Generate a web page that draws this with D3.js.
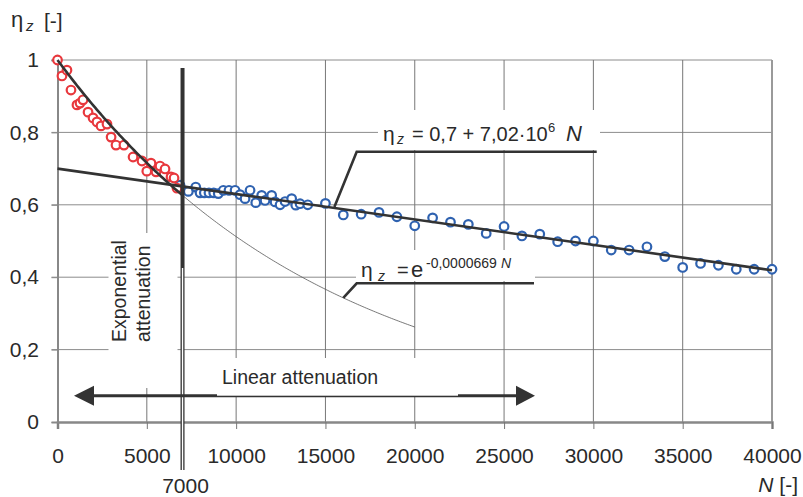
<!DOCTYPE html>
<html>
<head>
<meta charset="utf-8">
<script src="https://cdn.jsdelivr.net/npm/d3@7"></script>
<style>
  html, body { margin: 0; padding: 0; background: #fff; }
  svg { display: block; font-family: "Liberation Sans", Arial, sans-serif; }
</style>
</head>
<body>
<svg id="chart" width="803" height="497"></svg>
<script>
// Exponential-phase measurements (red)
const redN   = [0, 250, 530, 755, 1090, 1260, 1430, 1710, 1990, 2210, 2435, 2770, 3000, 3275, 3720,
                4230, 4730, 5000, 5235, 5515, 5740, 6020, 6355, 6525, 6690];
const redEta = [1.000, 0.956, 0.972, 0.917, 0.876, 0.881, 0.890, 0.856, 0.840, 0.829, 0.818, 0.823,
                0.787, 0.765, 0.765, 0.732, 0.721, 0.693, 0.715, 0.691, 0.707, 0.699, 0.677, 0.674, 0.646];

// Linear-phase measurements (blue)
const blueN   = [6860, 7325, 7740, 7980, 8220, 8480, 8745, 9000, 9285, 9600, 9940, 10220, 10500, 10780,
                 11100, 11430, 11620, 11990, 12180, 12460, 12740, 13110, 13340, 13580, 14010, 15000,
                 16000, 17000, 18000, 19000, 20000, 21000, 22000, 23000, 24000, 25000, 26000, 27000,
                 28000, 29000, 30000, 31000, 32000, 33000, 34000, 35000, 36000, 37000, 38000, 39000, 40000];
const blueEta = [0.654, 0.637, 0.649, 0.633, 0.633, 0.633, 0.633, 0.631, 0.640, 0.640, 0.640, 0.628,
                 0.617, 0.640, 0.606, 0.626, 0.612, 0.626, 0.608, 0.600, 0.609, 0.617, 0.599, 0.603,
                 0.600, 0.604,
                 0.572, 0.574, 0.579, 0.567, 0.542, 0.564, 0.552, 0.546, 0.521, 0.540, 0.514, 0.519,
                 0.498, 0.500, 0.500, 0.475, 0.475, 0.484, 0.457, 0.427, 0.438, 0.433, 0.422, 0.422, 0.422];

// Axis ticks
const xTicks = [0, 5000, 10000, 15000, 20000, 25000, 30000, 35000, 40000];
const yTicks = [0, 0.2, 0.4, 0.6, 0.8, 1];
const yTickLabels = ["0", "0,2", "0,4", "0,6", "0,8", "1"];

// Fitted models
const fitIntercept = 0.7;
const fitSlope = 7.02e-6;      // linear decrease per cycle
const expRate = 0.0000669;     // exponential decay constant
const transitionN = 7000;

const svg = d3.select("#chart");
const x = d3.scaleLinear().domain([0, 40000]).range([57.5, 772]);
const y = d3.scaleLinear().domain([0, 1]).range([422, 60]);

const dark = "#333";
const gridCol = "#8c8c8c";
const font = '"Liberation Sans", Arial, sans-serif';

// Grid
const grid = svg.append("g");
grid.selectAll("line.h").data(yTicks.slice(1)).join("line")
  .attr("x1", x(0) - 6).attr("x2", x(40000))
  .attr("y1", d => y(d)).attr("y2", d => y(d))
  .attr("stroke", gridCol).attr("stroke-width", 1);
grid.selectAll("line.v").data(xTicks.slice(1, -1)).join("line")
  .attr("x1", d => x(d)).attr("x2", d => x(d))
  .attr("y1", y(1)).attr("y2", y(0))
  .attr("stroke", "#777").attr("stroke-width", 1);
// right frame
grid.append("line").attr("x1", x(40000)).attr("x2", x(40000))
  .attr("y1", y(1)).attr("y2", y(0)).attr("stroke", "#9a9a9a").attr("stroke-width", 2);

// Axes
const xAxis = svg.append("g").attr("transform", `translate(0,${y(0)})`)
  .call(d3.axisBottom(x).tickValues(xTicks).tickSize(7).tickPadding(19).tickFormat(d3.format("d")));
xAxis.select(".domain").attr("stroke", "#888").attr("stroke-width", 2.5);
xAxis.selectAll(".tick line").attr("stroke", "#777");
xAxis.selectAll(".tick text").attr("font-size", 21).attr("font-family", font).attr("fill", "#2a2a2a");

const yAxis = svg.append("g").attr("transform", `translate(${x(0)},0)`)
  .call(d3.axisLeft(y).tickValues(yTicks).tickSize(6).tickPadding(12.5)
    .tickFormat((d, i) => yTickLabels[i]));
yAxis.select(".domain").attr("stroke", "#888").attr("stroke-width", 2);
yAxis.selectAll(".tick line").attr("stroke", "#888");
yAxis.selectAll(".tick text").attr("font-size", 21).attr("font-family", font).attr("fill", "#2a2a2a");

// White label boxes (hide grid behind text)
const boxes = [
  [x(0) + 51, 233, 69, 155],   // Exponential attenuation
  [217, 358, 241, 37.5],       // Linear attenuation
  [378, 110, 222, 40],         // linear fit equation
  [356, 250, 179, 31]          // exponential fit equation
];
svg.append("g").selectAll("rect").data(boxes).join("rect")
  .attr("x", d => d[0]).attr("y", d => d[1]).attr("width", d => d[2]).attr("height", d => d[3])
  .attr("fill", "#fff");

// Data points
svg.append("g").selectAll("circle").data(d3.zip(blueN, blueEta)).join("circle")
  .attr("cx", d => x(d[0])).attr("cy", d => y(d[1])).attr("r", 4.3)
  .attr("fill", "#fff").attr("stroke", "#2f62b0").attr("stroke-width", 2.2);
svg.append("g").selectAll("circle").data(d3.zip(redN, redEta)).join("circle")
  .attr("cx", d => x(d[0])).attr("cy", d => y(d[1])).attr("r", 4.3)
  .attr("fill", "#fff").attr("stroke", "#e8383d").attr("stroke-width", 2.2);

// Model curves
const line = d3.line().x(d => x(d[0])).y(d => y(d[1]));
svg.append("path")
  .datum([[0, fitIntercept], [40000, fitIntercept - fitSlope * 40000]])
  .attr("d", line).attr("fill", "none").attr("stroke", dark).attr("stroke-width", 2.6);
const expPts = (a, b) => d3.range(a, b + 1, 100).map(n => [n, Math.exp(-expRate * n)]);
svg.append("path").datum(expPts(0, transitionN)).attr("d", line)
  .attr("fill", "none").attr("stroke", dark).attr("stroke-width", 2.6);
svg.append("path").datum(expPts(transitionN, 20000)).attr("d", line)
  .attr("fill", "none").attr("stroke", "#555").attr("stroke-width", 0.8);

// Transition marker at N = 7000
const xt = x(transitionN);
svg.append("line").attr("x1", xt).attr("x2", xt).attr("y1", 68).attr("y2", 470)
  .attr("stroke", dark).attr("stroke-width", 4);
svg.append("line").attr("x1", xt).attr("x2", xt).attr("y1", 268).attr("y2", 470)
  .attr("stroke", "#fff").attr("stroke-width", 1.4);
svg.append("text").attr("x", xt + 3).attr("y", 493).attr("text-anchor", "middle")
  .attr("font-size", 21).attr("fill", "#2a2a2a").text("7000");

// Linear attenuation arrow
const ay = 395.7;
svg.append("line").attr("x1", 90).attr("x2", 520).attr("y1", ay).attr("y2", ay)
  .attr("stroke", dark).attr("stroke-width", 3);
svg.append("rect").attr("x", 217).attr("y", 358).attr("width", 241).attr("height", ay - 358)
  .attr("fill", "#fff");
svg.append("path").attr("d", `M74,${ay} L94,${ay - 10} L94,${ay + 10} Z`).attr("fill", dark);
svg.append("path").attr("d", `M535,${ay} L516,${ay - 10} L516,${ay + 10} Z`).attr("fill", dark);
svg.append("text").attr("x", 222).attr("y", 384).attr("font-size", 19.5).attr("fill", "#2a2a2a")
  .text("Linear attenuation");

// Exponential attenuation label
svg.append("text").attr("transform", "translate(126,342) rotate(-90)")
  .attr("font-size", 19.5).attr("fill", "#2a2a2a").text("Exponential");
svg.append("text").attr("transform", "translate(150,342) rotate(-90)")
  .attr("font-size", 19.5).attr("fill", "#2a2a2a").text("attenuation");

// Linear fit annotation
const a1n = 15500;
svg.append("polyline")
  .attr("points", `${x(a1n)},${y(fitIntercept - fitSlope * a1n) - 1} 356.7,151.7 596.7,151.7`)
  .attr("fill", "none").attr("stroke", dark).attr("stroke-width", 2.6);
const t1 = svg.append("g").attr("fill", "#2a2a2a");
t1.append("text").attr("x", 383).attr("y", 140.7).attr("font-size", 21).text("η");
t1.append("text").attr("x", 397).attr("y", 144).attr("font-size", 14).attr("font-style", "italic").text("z");
t1.append("text").attr("x", 412).attr("y", 140.7).attr("font-size", 20).text("= 0,7 + 7,02·10");
t1.append("text").attr("x", 548).attr("y", 131.5).attr("font-size", 13).text("6");
t1.append("text").attr("x", 566).attr("y", 140.7).attr("font-size", 22).attr("font-style", "italic").text("N");

// Exponential fit annotation
const a2n = 16000;
svg.append("polyline")
  .attr("points", `${x(a2n)},${y(Math.exp(-expRate * a2n))} 356.7,283.3 534,283.3`)
  .attr("fill", "none").attr("stroke", dark).attr("stroke-width", 2.6);
const t2 = svg.append("g").attr("fill", "#2a2a2a");
t2.append("text").attr("x", 361).attr("y", 277).attr("font-size", 21).text("η");
t2.append("text").attr("x", 378).attr("y", 280.5).attr("font-size", 14).attr("font-style", "italic").text("z");
t2.append("text").attr("x", 397).attr("y", 277).attr("font-size", 20).text("=");
t2.append("text").attr("x", 411).attr("y", 277).attr("font-size", 22).text("e");
t2.append("text").attr("x", 426).attr("y", 268).attr("font-size", 14).text("-0,0000669");
t2.append("text").attr("x", 501).attr("y", 268).attr("font-size", 14).attr("font-style", "italic").text("N");

// Axis titles
const yt = svg.append("g").attr("fill", "#2a2a2a");
yt.append("text").attr("x", 11).attr("y", 27).attr("font-size", 22).text("η");
yt.append("text").attr("x", 26).attr("y", 31).attr("font-size", 15).attr("font-style", "italic").text("z");
yt.append("text").attr("x", 44).attr("y", 28).attr("font-size", 21).text("[-]");

const xtl = svg.append("text").attr("x", 798).attr("y", 492).attr("text-anchor", "end")
  .attr("font-size", 21).attr("fill", "#2a2a2a");
xtl.append("tspan").attr("font-style", "italic").text("N");
xtl.append("tspan").text("  [-]");
</script>
</body>
</html>
